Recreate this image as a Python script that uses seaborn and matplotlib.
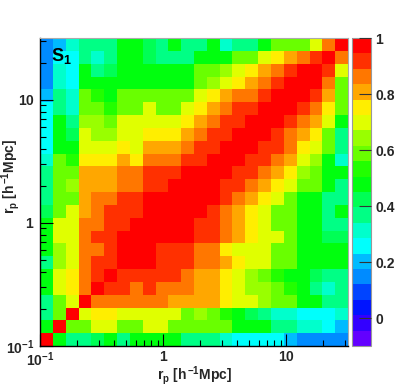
import colorsys
import numpy as np
import pandas as pd
import matplotlib
matplotlib.use('Agg')
import matplotlib.pyplot as plt
from matplotlib.colors import ListedColormap
import seaborn as sns

# binning of r_p (log spaced) and z range of the palette
rp_min, rp_max, n_bins = 0.1, 10 ** 1.5, 24
z_min, z_max, n_levels = -0.1, 1.0, 20

# correlation matrix, row 0 = smallest r_p (bottom), col 0 = left
corr_rows = [
    [1.00, .48, .37, .37, .42, .48, .37, .48, .48, .48, .48, .37, .37, .37, .31, .26, .26, .26, .26, .20, .15, .15, .15, .15],
    [.48, 1.00, .59, .59, .70, .70, .59, .59, .70, .70, .59, .59, .59, .59, .59, .48, .48, .48, .37, .37, .31, .31, .26, .20],
    [.37, .59, 1.00, .70, .75, .75, .70, .70, .70, .70, .70, .59, .64, .59, .53, .48, .42, .37, .31, .31, .26, .26, .26, .31],
    [.37, .59, .70, 1.00, .86, .86, .86, .86, .86, .86, .81, .81, .81, .81, .75, .70, .70, .64, .59, .59, .48, .48, .37, .37],
    [.48, .70, .75, .86, 1.00, .92, .92, .86, .92, .86, .86, .86, .81, .81, .75, .70, .64, .64, .59, .53, .48, .37, .31, .37],
    [.48, .70, .75, .86, .92, 1.00, .92, .92, .92, .92, .92, .86, .81, .81, .75, .70, .64, .59, .53, .48, .48, .42, .37, .37],
    [.37, .64, .70, .86, .92, .92, 1.00, .97, .97, .92, .92, .92, .86, .86, .81, .75, .70, .70, .59, .59, .48, .48, .48, .48],
    [.48, .64, .70, .86, .86, .92, .97, 1.00, .97, .92, .92, .92, .86, .86, .75, .70, .70, .70, .59, .59, .48, .48, .48, .48],
    [.48, .70, .70, .86, .92, .92, .97, .97, 1.00, .97, .97, .97, .92, .92, .86, .81, .75, .70, .70, .59, .48, .48, .42, .42],
    [.48, .70, .70, .86, .86, .92, .92, .97, .97, 1.00, .97, .97, .92, .92, .86, .81, .75, .70, .59, .59, .48, .48, .37, .37],
    [.42, .59, .70, .81, .86, .92, .92, .92, .97, .97, 1.00, .97, .97, .92, .86, .81, .75, .70, .59, .59, .48, .48, .37, .48],
    [.37, .59, .59, .81, .86, .86, .92, .92, .97, .97, .97, 1.00, .97, .97, .92, .86, .81, .75, .70, .59, .48, .48, .37, .37],
    [.37, .59, .64, .81, .81, .81, .86, .86, .92, .92, .97, .97, 1.00, .97, .92, .92, .86, .81, .75, .70, .59, .59, .48, .37],
    [.37, .59, .59, .81, .81, .81, .86, .86, .92, .92, .92, .97, .97, 1.00, .97, .92, .92, .86, .81, .75, .64, .59, .48, .48],
    [.31, .59, .53, .75, .75, .75, .81, .75, .86, .86, .86, .92, .92, .97, 1.00, .97, .92, .92, .86, .81, .70, .64, .48, .31],
    [.26, .48, .48, .70, .70, .70, .75, .70, .81, .81, .81, .86, .92, .92, .97, 1.00, .97, .92, .92, .86, .75, .70, .59, .37],
    [.26, .48, .42, .70, .64, .64, .70, .70, .75, .75, .75, .81, .86, .92, .92, .97, 1.00, .97, .92, .86, .81, .75, .59, .37],
    [.26, .48, .37, .64, .64, .59, .70, .70, .70, .70, .70, .75, .81, .86, .92, .92, .97, 1.00, .97, .92, .86, .81, .70, .48],
    [.26, .37, .31, .59, .59, .53, .59, .59, .70, .59, .59, .70, .75, .81, .86, .92, .92, .97, 1.00, .97, .92, .86, .75, .59],
    [.20, .37, .31, .59, .53, .48, .59, .59, .59, .59, .59, .59, .70, .75, .81, .86, .86, .92, .97, 1.00, .97, .92, .81, .59],
    [.15, .31, .26, .48, .48, .48, .48, .48, .48, .48, .48, .48, .59, .64, .70, .75, .81, .86, .92, .97, 1.00, .97, .86, .59],
    [.15, .31, .26, .48, .37, .42, .48, .48, .48, .48, .48, .48, .59, .59, .64, .70, .75, .81, .86, .92, .97, 1.00, .92, .70],
    [.15, .26, .26, .37, .31, .37, .48, .48, .42, .37, .37, .37, .48, .48, .48, .59, .59, .70, .75, .81, .86, .92, 1.00, .86],
    [.15, .20, .31, .37, .37, .37, .48, .48, .42, .37, .48, .37, .37, .48, .31, .37, .37, .48, .59, .59, .59, .70, .86, 1.00],
]

major_ticks = [0.1, 1, 10]
major_labels = [r'$10^{-1}$', r'$1$', r'$10$']
minor_ticks = [0.2, 0.3, 0.4, 0.5, 0.6, 0.7, 0.8, 0.9, 2, 3, 4, 5, 6, 7, 8, 9, 20, 30]
cbar_ticks = [0, 0.2, 0.4, 0.6, 0.8, 1]
cbar_labels = ['0', '0.2', '0.4', '0.6', '0.8', '1']
axis_title = r'$r_{p}\ [h^{-1}Mpc]$'


def root_palette(n):
    # ROOT "pretty" palette (violet -> red, 50 colours), sampled for n contours
    pretty = []
    for i in range(49):
        hue = 280 - (i + 1) * 280 / 50
        pretty.append(colorsys.hls_to_rgb(hue / 360, 0.5, 1.0))
    pretty.append((1.0, 0.0, 0.0))
    return [pretty[int((k + 0.99) * 50 / n)] for k in range(n)]


def to_cell(v):
    lo, hi = np.log10(rp_min), np.log10(rp_max)
    return (np.log10(v) - lo) / (hi - lo) * n_bins


sns.set_style('white')
plt.rcParams['font.family'] = ['Liberation Sans', 'DejaVu Sans']
plt.rcParams['font.weight'] = 'bold'
plt.rcParams['mathtext.fontset'] = 'custom'
plt.rcParams['mathtext.rm'] = 'Liberation Sans:bold'
plt.rcParams['mathtext.it'] = 'Liberation Sans:bold'
plt.rcParams['mathtext.bf'] = 'Liberation Sans:bold'

cmap = ListedColormap(root_palette(n_levels))
df = pd.DataFrame(corr_rows)

fig = plt.figure(figsize=(3.98, 3.86), dpi=100)
ax = fig.add_axes([40 / 398, 40 / 386, 308 / 398, 308 / 386])
cax = fig.add_axes([352 / 398, 40 / 386, 19 / 398, 308 / 386])

sns.heatmap(df, ax=ax, cbar_ax=cax, cmap=cmap, vmin=z_min, vmax=z_max,
            xticklabels=False, yticklabels=False, linewidths=0,
            cbar_kws={'ticks': cbar_ticks})
ax.invert_yaxis()
ax.set_axisbelow(False)
cax.set_axisbelow(False)

# log-scale ticks placed in cell units
for axis in (ax.xaxis, ax.yaxis):
    axis.set_ticks([to_cell(v) for v in major_ticks])
    axis.set_ticklabels(major_labels)
    axis.set_ticks([to_cell(v) for v in minor_ticks], minor=True)
ax.tick_params(which='both', direction='in', bottom=True, left=True,
               top=False, right=False, color='black', width=0.8, labelsize=10)
ax.tick_params(which='major', length=9)
ax.tick_params(which='minor', length=4.5)
ax.tick_params(axis='x', which='major', pad=3)
ax.tick_params(axis='y', which='major', pad=4)

for side, spine in ax.spines.items():
    spine.set_visible(True)
    if side in ('left', 'bottom'):
        spine.set_color('black')
        spine.set_linewidth(1.0)
    else:
        spine.set_color('#aaaaaa')
        spine.set_linewidth(0.8)

ax.set_xlabel(axis_title, fontsize=10)
ax.set_ylabel(axis_title, fontsize=10)
ax.xaxis.set_label_coords(0.5, -0.058)
ax.yaxis.set_label_coords(-0.06, 0.55)

ax.text(0.036, 0.975, r'$S_1$', transform=ax.transAxes, fontsize=13,
        ha='left', va='top', color='black')

cbar = ax.collections[0].colorbar
cbar.set_ticks(cbar_ticks)
cbar.set_ticklabels(cbar_labels)
cbar.outline.set_edgecolor('#999999')
cbar.outline.set_linewidth(0.8)
cax.tick_params(direction='in', length=9, width=0.8, right=True, left=False,
                labelsize=10, pad=3, color='#333333')

fig.savefig('out.png', dpi=100)
